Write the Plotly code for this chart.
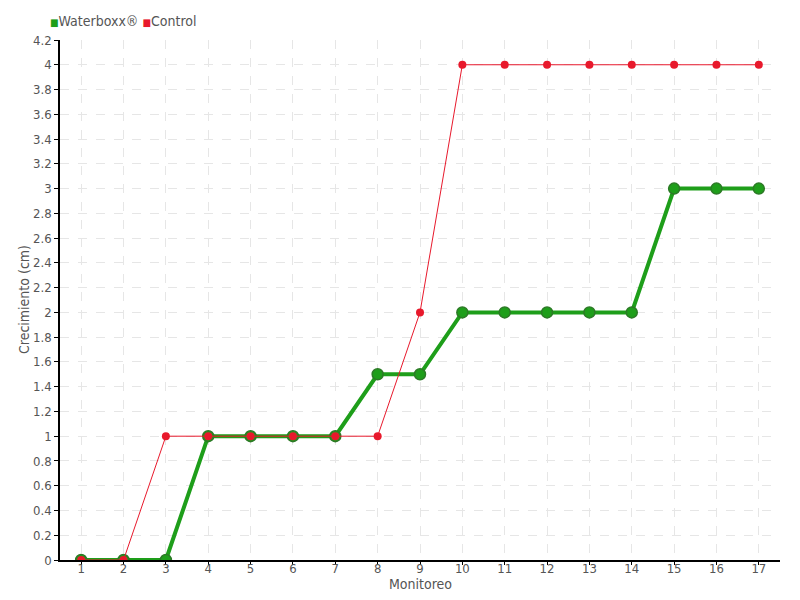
import plotly.graph_objects as go

monitoreo = list(range(1, 18))
waterboxx = [0, 0, 0, 1, 1, 1, 1, 1.5, 1.5, 2, 2, 2, 2, 2, 3, 3, 3]
control = [0, 0, 1, 1, 1, 1, 1, 1, 2, 4, 4, 4, 4, 4, 4, 4, 4]
y_ticks = [round(i * 0.2, 1) for i in range(22)]
y_labels = [("%g" % v) for v in y_ticks]

GREEN = "#1e9e1a"
GREEN_DARK = "#2c7a26"
RED = "#e8192c"
FONT = "DejaVu Sans Condensed"

fig = go.Figure()
fig.add_trace(go.Scatter(
    x=monitoreo, y=waterboxx, mode="lines+markers", name="Waterboxx®",
    line=dict(color=GREEN, width=4),
    marker=dict(color=GREEN, size=11, line=dict(color=GREEN_DARK, width=1.5)),
    showlegend=False,
))
fig.add_trace(go.Scatter(
    x=monitoreo, y=control, mode="lines+markers", name="Control",
    line=dict(color=RED, width=1),
    marker=dict(color=RED, size=8),
    showlegend=False,
))

# legend drawn as text
fig.add_annotation(
    x=(48 - 60) / 720, y=(560 - 21) / 520, xref="paper", yref="paper", showarrow=False,
    text=f"<span style='color:{GREEN};font-size:10px'>■</span>Waterboxx® <span style='color:{RED};font-size:10px'>■</span>Control",
    font=dict(family=FONT, size=14, color="#555"),
    xanchor="left", yanchor="middle",
)
# x axis title
fig.add_annotation(
    x=0.5, y=(560 - 584) / 520, xref="paper", yref="paper", showarrow=False,
    text="Monitoreo", font=dict(family=FONT, size=14, color="#555"),
    xanchor="center", yanchor="middle",
)
# y axis title
fig.add_annotation(
    x=(24 - 60) / 720, y=0.5, xref="paper", yref="paper", showarrow=False,
    text="Crecimiento (cm)", textangle=-90, font=dict(family=FONT, size=14, color="#555"),
    xanchor="center", yanchor="middle",
)

fig.update_layout(
    width=800, height=600,
    margin=dict(l=52, r=28, t=32, b=48),
    plot_bgcolor="white", paper_bgcolor="white",
    font=dict(family=FONT, size=14, color="#555"),
)
fig.update_xaxes(
    range=[0.5, 17.5], tickvals=monitoreo, ticktext=[str(v) for v in monitoreo],
    tickfont=dict(size=13),
    showline=True, linecolor="black", linewidth=1.5,
    ticks="outside", ticklen=3, tickcolor="black",
    ticklabelstandoff=-7,
    showgrid=True, gridcolor="#e6e6e6", griddash="dash", zeroline=False,
    automargin=False,
)
fig.update_yaxes(
    range=[0, 4.2], tickvals=y_ticks, ticktext=y_labels,
    tickfont=dict(size=13),
    showline=True, linecolor="black", linewidth=1.5,
    ticks="outside", ticklen=4, tickcolor="black",
    showgrid=True, gridcolor="#e6e6e6", griddash="dash", zeroline=False,
    automargin=False,
)

fig.write_html("out.html")
